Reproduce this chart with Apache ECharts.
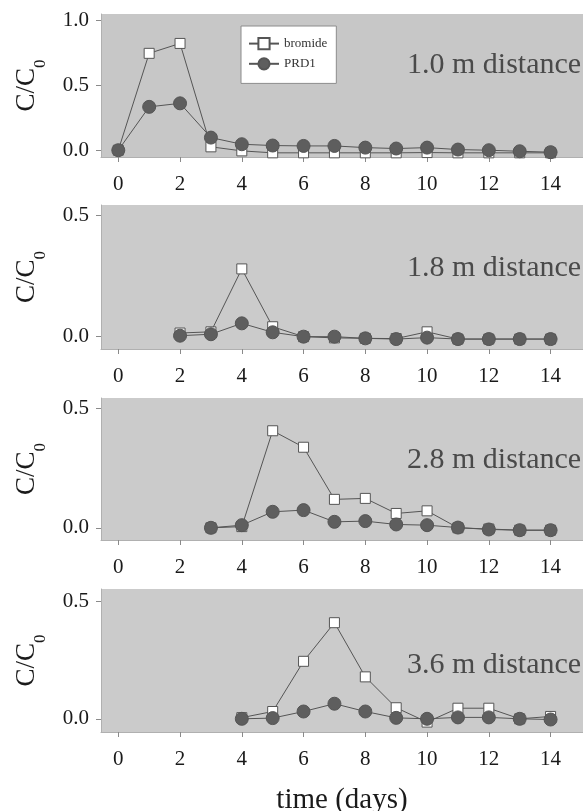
<!DOCTYPE html>
<html>
<head>
<meta charset="utf-8">
<script src="https://cdn.jsdelivr.net/npm/echarts@6/dist/echarts.min.js"></script>
<style>
  html, body { margin: 0; padding: 0; background: #fff; }
  #chart { width: 583px; height: 811px; }
</style>
</head>
<body>
<div id="chart"></div>
<script>
// Breakthrough curves at four sampling distances (relative concentration vs time)
const distanceLabels = ['1.0 m distance', '1.8 m distance', '2.8 m distance', '3.6 m distance'];
const seriesNames = ['bromide', 'PRD1'];
const xTickValues = [0, 2, 4, 6, 8, 10, 12, 14];
const yTicksTop = [0, 0.5, 1.0];
const yTicksLower = [0, 0.5];

// sampling days for each well
const days1 = [0, 1, 2, 3, 4, 5, 6, 7, 8, 9, 10, 11, 12, 13, 14];
const days2 = [2, 3, 4, 5, 6, 7, 8, 9, 10, 11, 12, 13, 14];
const days3 = [3, 4, 5, 6, 7, 8, 9, 10, 11, 12, 13, 14];
const days4 = [4, 5, 6, 7, 8, 9, 10, 11, 12, 13, 14];

// C/C0 values
const bromide1 = [0.0, 0.744, 0.82, 0.026, -0.005, -0.02, -0.02, -0.02, -0.02, -0.02, -0.018, -0.02, -0.02, -0.02, -0.02];
const prd1_1 = [0.0, 0.333, 0.36, 0.097, 0.046, 0.036, 0.033, 0.033, 0.02, 0.013, 0.02, 0.005, 0.0, -0.008, -0.015];

const bromide2 = [0.015, 0.02, 0.28, 0.041, 0.0, -0.005, -0.007, -0.008, 0.02, -0.01, -0.01, -0.01, -0.01];
const prd1_2 = [0.004, 0.01, 0.055, 0.018, 0.0, 0.0, -0.007, -0.01, -0.004, -0.01, -0.01, -0.01, -0.01];

const bromide3 = [0.0, 0.005, 0.406, 0.337, 0.119, 0.123, 0.06, 0.071, 0.0, -0.005, -0.01, -0.01];
const prd1_3 = [0.0, 0.011, 0.067, 0.074, 0.025, 0.028, 0.014, 0.011, 0.001, -0.007, -0.01, -0.01];

const bromide4 = [0.005, 0.031, 0.244, 0.408, 0.178, 0.047, -0.014, 0.045, 0.045, 0.0, 0.01];
const prd1_4 = [0.0, 0.003, 0.031, 0.064, 0.031, 0.004, 0.0, 0.006, 0.006, 0.0, -0.003];

const panels = [
  { days: days1, bromide: bromide1, prd: prd1_1, yTicks: yTicksTop },
  { days: days2, bromide: bromide2, prd: prd1_2, yTicks: yTicksLower },
  { days: days3, bromide: bromide3, prd: prd1_3, yTicks: yTicksLower },
  { days: days4, bromide: bromide4, prd: prd1_4, yTicks: yTicksLower }
];

// layout of the four stacked panels
const layout = [
  { top: 14, height: 143, yMin: -0.052, yMax: 1.046, bg: '#c7c7c7', labelY: 67 },
  { top: 205, height: 144, yMin: -0.051, yMax: 0.544, bg: '#cbcbcb', labelY: 270 },
  { top: 398, height: 142, yMin: -0.051, yMax: 0.543, bg: '#cbcbcb', labelY: 462 },
  { top: 589, height: 143, yMin: -0.056, yMax: 0.551, bg: '#cbcbcb', labelY: 667 }
];

const FONT = '"Liberation Serif", "DejaVu Serif", serif';
const LINE = '#555555';

const pair = (d, v) => d.map((x, i) => [x, v[i]]);

const grids = [], xAxes = [], yAxes = [], series = [], graphics = [];

panels.forEach((p, i) => {
  const L = layout[i];
  grids.push({
    left: 101, right: 0, top: L.top, height: L.height,
    show: true, backgroundColor: L.bg, borderWidth: 0,
    outerBoundsMode: 'none', containLabel: false
  });
  xAxes.push({
    gridIndex: i, type: 'value', min: -0.56, max: 15.05,
    splitLine: { show: false },
    axisLine: { show: true, onZero: false, lineStyle: { color: '#b0b0b0', width: 1 } },
    axisTick: { show: true, customValues: xTickValues, length: 5, lineStyle: { color: '#8a8a8a' } },
    axisLabel: {
      customValues: xTickValues, margin: 17,
      fontFamily: FONT, fontSize: 21, color: '#1a1a1a'
    },
    name: i === 3 ? 'time (days)' : '',
    nameLocation: 'middle', nameGap: 54,
    nameTextStyle: { fontFamily: FONT, fontSize: 29, color: '#1a1a1a' }
  });
  yAxes.push({
    gridIndex: i, type: 'value', min: L.yMin, max: L.yMax,
    splitLine: { show: false },
    axisLine: { show: true, onZero: false, lineStyle: { color: '#b0b0b0', width: 1 } },
    axisTick: { show: true, customValues: p.yTicks, length: 5, lineStyle: { color: '#8a8a8a' } },
    axisLabel: {
      customValues: p.yTicks, margin: 12,
      fontFamily: FONT, fontSize: 21, color: '#1a1a1a',
      formatter: v => v.toFixed(1)
    },
    name: '{c|C/C}{s|0}',
    nameLocation: 'middle', nameRotate: 90, nameGap: 52,
    nameTextStyle: {
      rich: {
        c: { fontFamily: FONT, fontSize: 27, color: '#1a1a1a', padding: [0, 0, 9, 0] },
        s: { fontFamily: FONT, fontSize: 17, color: '#1a1a1a', verticalAlign: 'bottom' }
      }
    }
  });
  series.push({
    name: seriesNames[0], type: 'line', xAxisIndex: i, yAxisIndex: i,
    data: pair(p.days, p.bromide),
    symbol: 'rect', symbolSize: 10, showAllSymbol: true,
    lineStyle: { color: LINE, width: 1 },
    itemStyle: { color: '#ffffff', borderColor: LINE, borderWidth: 1 },
    emphasis: { disabled: true }, animation: false
  });
  series.push({
    name: seriesNames[1], type: 'line', xAxisIndex: i, yAxisIndex: i,
    data: pair(p.days, p.prd),
    symbol: 'circle', symbolSize: 13, showAllSymbol: true,
    lineStyle: { color: LINE, width: 1 },
    itemStyle: { color: '#5e5e5e', borderColor: '#555555', borderWidth: 1 },
    emphasis: { disabled: true }, animation: false
  });
  graphics.push({
    type: 'text', left: 407, top: L.labelY - 17, silent: true,
    style: { text: distanceLabels[i], font: '30px ' + FONT, fill: '#4a4a4a' }
  });
});

const chart = echarts.init(document.getElementById('chart'), null, { renderer: 'canvas' });
chart.setOption({
  animation: false,
  backgroundColor: '#ffffff',
  grid: grids,
  xAxis: xAxes,
  yAxis: yAxes,
  series: series,
  graphic: graphics,
  legend: {
    data: seriesNames, orient: 'vertical',
    left: 241, top: 26,
    padding: [11, 9, 13, 7],
    itemWidth: 30, itemHeight: 14, itemGap: 7,
    backgroundColor: '#ffffff', borderColor: '#8c8c8c', borderWidth: 1,
    textStyle: { fontFamily: FONT, fontSize: 13, color: '#333333' },
    selectedMode: false
  }
});
</script>
</body>
</html>
